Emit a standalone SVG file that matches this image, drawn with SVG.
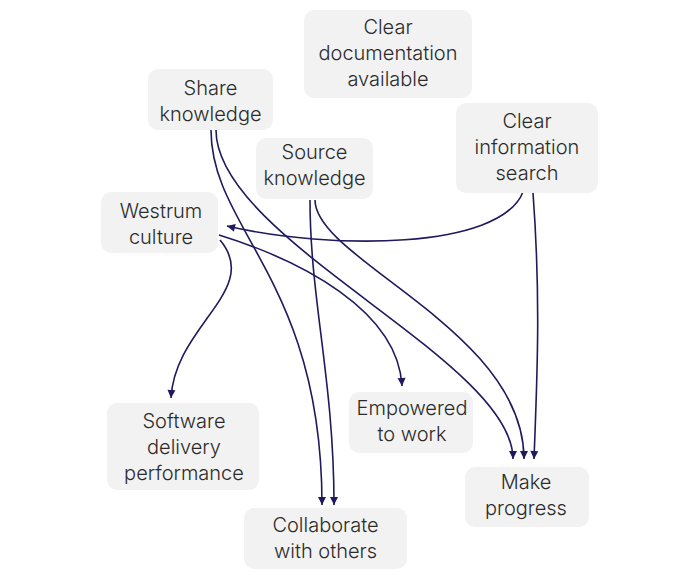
<svg xmlns="http://www.w3.org/2000/svg" width="700" height="580" viewBox="0 0 700 580">
<defs>
<marker id="arr" markerWidth="10" markerHeight="10" refX="9" refY="5" orient="auto" markerUnits="userSpaceOnUse">
<path d="M1,1 L9,5 L1,9 Z" fill="#201a5c"/>
</marker>
<style>
.box{fill:#f2f2f2;}
.lbl{font-family:Inter,"Liberation Sans",sans-serif;font-size:20px;font-weight:300;fill:#2b2b2b;text-anchor:middle;}
.edge{fill:none;stroke:#201a5c;stroke-width:1.6;marker-end:url(#arr);}
</style>
</defs>
<rect width="700" height="580" fill="#ffffff"/>
<g id="edges">
<path class="edge" d="M211,130 C211,230 322,280 322,505"/>
<path class="edge" d="M216,130 C216,240 513,360 513,459"/>
<path class="edge" d="M310,200 C310,300 334,380 334,505"/>
<path class="edge" d="M315,200 C315,260 524,330 524,459"/>
<path class="edge" d="M523,192 C500,250 330,250 227,226"/>
<path class="edge" d="M533,193 C541,300 537,380 534,459"/>
<path class="edge" d="M219,235 C300,260 398,310 402,386"/>
<path class="edge" d="M220,240 C262,290 175,325 171,398"/>
</g>
<g id="share">
<rect class="box" x="148" y="69" width="125" height="61" rx="10"/>
<text class="lbl" x="210.5" y="95">Share</text>
<text class="lbl" x="210.5" y="121">knowledge</text>
</g>
<g id="clear-doc">
<rect class="box" x="304" y="10" width="168" height="88" rx="10"/>
<text class="lbl" x="388" y="34">Clear</text>
<text class="lbl" x="388" y="60">documentation</text>
<text class="lbl" x="388" y="86">available</text>
</g>
<g id="clear-info">
<rect class="box" x="456" y="103" width="142" height="90" rx="10"/>
<text class="lbl" x="527" y="128">Clear</text>
<text class="lbl" x="527" y="154">information</text>
<text class="lbl" x="527" y="180">search</text>
</g>
<g id="source">
<rect class="box" x="256" y="138" width="117" height="61" rx="10"/>
<text class="lbl" x="314.5" y="159">Source</text>
<text class="lbl" x="314.5" y="185">knowledge</text>
</g>
<g id="westrum">
<rect class="box" x="101" y="192" width="117" height="61" rx="10"/>
<text class="lbl" x="161" y="218">Westrum</text>
<text class="lbl" x="161" y="244">culture</text>
</g>
<g id="software">
<rect class="box" x="107" y="403" width="152" height="87" rx="10"/>
<text class="lbl" x="184" y="428">Software</text>
<text class="lbl" x="184" y="454">delivery</text>
<text class="lbl" x="184" y="480">performance</text>
</g>
<g id="empowered">
<rect class="box" x="349" y="392" width="124" height="61" rx="10"/>
<text class="lbl" x="412" y="415">Empowered</text>
<text class="lbl" x="412" y="441">to work</text>
</g>
<g id="make">
<rect class="box" x="465" y="467" width="124" height="60" rx="10"/>
<text class="lbl" x="526" y="489">Make</text>
<text class="lbl" x="526" y="515">progress</text>
</g>
<g id="collab">
<rect class="box" x="244" y="508" width="163" height="61" rx="10"/>
<text class="lbl" x="325.5" y="532">Collaborate</text>
<text class="lbl" x="325.5" y="558">with others</text>
</g>
</svg>
